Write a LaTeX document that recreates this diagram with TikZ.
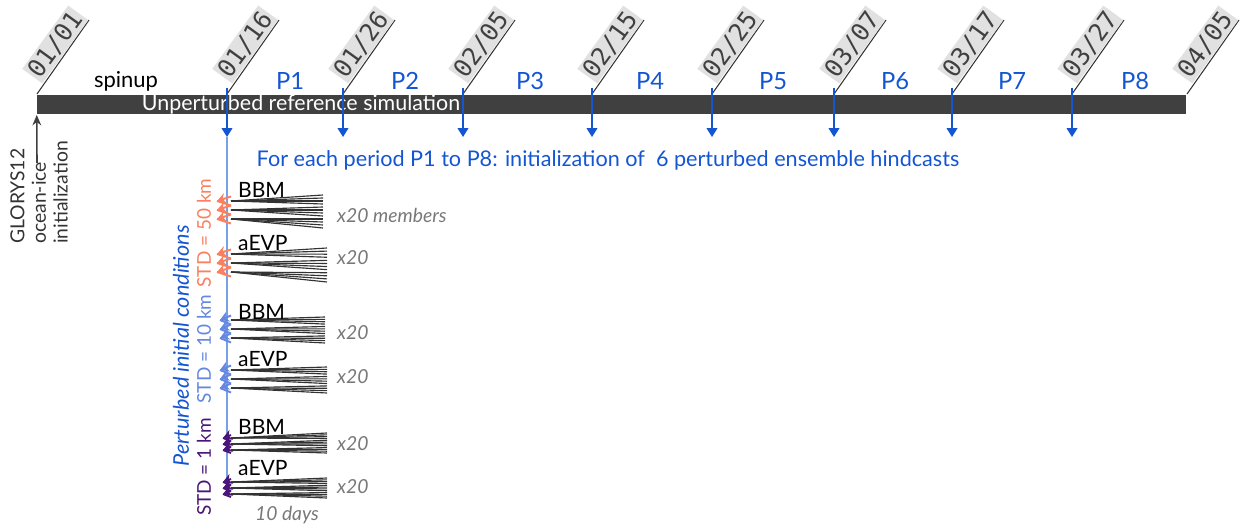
\documentclass[tikz,border=0pt]{standalone}
\usepackage{fontspec}
\setmainfont{Lato}
\newfontfamily\datefont{DejaVu Sans Mono}
\usetikzlibrary{arrows.meta}

\definecolor{pblue}{RGB}{20,85,210}
\definecolor{lineblue}{RGB}{120,160,230}
\definecolor{stdfifty}{RGB}{250,128,95}
\definecolor{stdten}{RGB}{100,135,225}
\definecolor{stdone}{RGB}{75,20,120}
\definecolor{bargray}{RGB}{64,64,64}
\definecolor{datebox}{RGB}{225,225,225}
\definecolor{notegray}{RGB}{120,120,120}

\begin{document}
\begin{tikzpicture}[x=0.02cm, y=-0.02cm,
    timebar/.style={rectangle,fill=bargray,minimum width=22.98cm,minimum height=0.4cm,inner sep=0pt},
    date/.style={anchor=south east,rotate=54,fill=datebox,inner sep=1.2pt,font=\datefont\fontsize{14}{14}\selectfont,text=black!75},
    tick/.style={draw=black!80,line width=0.6pt},
    period/.style={text=pblue,font=\fontsize{13.5}{13.5}\selectfont},
    down/.style={draw=pblue,line width=0.9pt,-{Triangle[length=5pt,width=6pt]}},
    model/.style={anchor=west,font=\fontsize{12}{12}\selectfont},
    times/.style={anchor=west,text=notegray,font=\itshape\fontsize{11}{11}\selectfont},
    std/.style={rotate=90,font=\fontsize{10.8}{10.8}\selectfont},
    member/.style={draw=black!80,line width=0.65pt}
  ]
  \useasboundingbox (0,0) rectangle (1246,527);

  % timeline
  \node[timebar] (bar) at (611.5,104.5) {};
  \node[text=white,font=\fontsize{12.2}{12.2}\selectfont] (ref) at (301,104) {Unperturbed reference simulation};
  \foreach \x/\m/\d in {37/01/01,227/01/16,343/01/26,463/02/05,592/02/15,712/02/25,834/03/07,952/03/17,1072/03/27,1187/04/05}
    \draw[tick] (\x,94) -- ++(52,-74) node[date] {\m/\d};
  \node[font=\fontsize{12.5}{12.5}\selectfont] (spinup) at (126,81) {spinup};
  \foreach \x/\p in {290/1,405/2,530/3,650/4,773/5,895/6,1012/7,1135/8}
    \node[period] (p\p) at (\x,81) {P\p};

  % GLORYS12 initialization
  \node[rotate=90,anchor=west,align=left,text=black!80,font=\fontsize{11}{12.3}\selectfont] (glorys) at (39,250)
    {GLORYS12\\ocean-ice\\initialization};
  \coordinate (gl) at (37,163);
  \draw[draw=black!75,line width=0.9pt,-{Stealth[length=6pt,width=5pt]}] (gl) -- (bar.south west);

  % initialization of the hindcasts
  \foreach \x in {227,343,463,592,712,834,952,1072}
    \draw[down] (\x,88) -- (\x,137);
  \node[text=pblue,font=\fontsize{12.3}{12.3}\selectfont] (each) at (608,160)
    {For each period P1 to P8: initialization of\ \ 6 perturbed ensemble hindcasts};
  \draw[draw=lineblue,line width=0.9pt] (227,137) -- (227,495);

  % ensembles
  \foreach \lab/\ly/\col/\ta/\ts/\amp/\ya/\yb/\xe/\yx/\mem in {
      BBM/190/stdfifty/201/9/14/195/228/323/215/x20 members,
      aEVP/243/stdfifty/254/9/14/248/282/327/258/x20,
      BBM/312/stdten/320/9/11/317/343/325/333/x20,
      aEVP/359/stdten/370/9/11/367/393/327/377/x20,
      BBM/427/stdone/438/6/8/433/453/327/444/x20,
      aEVP/468/stdone/482/6/8/478/498/327/487/x20}{
    \foreach \i in {0,...,11}{
      \pgfmathsetmacro{\ys}{\ta+floor(\i/4)*\ts}
      \pgfmathsetmacro{\ye}{\ya+(\yb-\ya)*\i/11}
      \draw[member] (231,\ys) -- (\xe,\ye);
    }
    \foreach \k in {0,1,2}{
      \pgfmathsetmacro{\yt}{\ta+\k*\ts}
      \draw[draw=\col,line width=1.1pt] (231-\amp,\yt) -- (231,\yt+\ts/2);
      \draw[draw=\col,line width=1.1pt,-{Stealth[length=5pt,width=6pt]}] (231,\yt-\ts/2) -- (231-\amp,\yt);
    }
    \node[model] at (232,\ly) {\lab};
    \node[times] at (331,\yx) {\mem};
  }
  \node[times,anchor=center] (days) at (287,515) {10 days};

  % perturbation labels
  \node[std,text=pblue,font=\itshape\fontsize{12.3}{12.3}\selectfont] (pert) at (181,346) {Perturbed initial conditions};
  \node[std,text=stdfifty] (fifty) at (204,233) {STD = 50 km};
  \node[std,text=stdten] (ten) at (204,349) {STD = 10 km};
  \node[std,text=stdone] (one) at (204,467) {STD = 1 km};
\end{tikzpicture}
\end{document}
